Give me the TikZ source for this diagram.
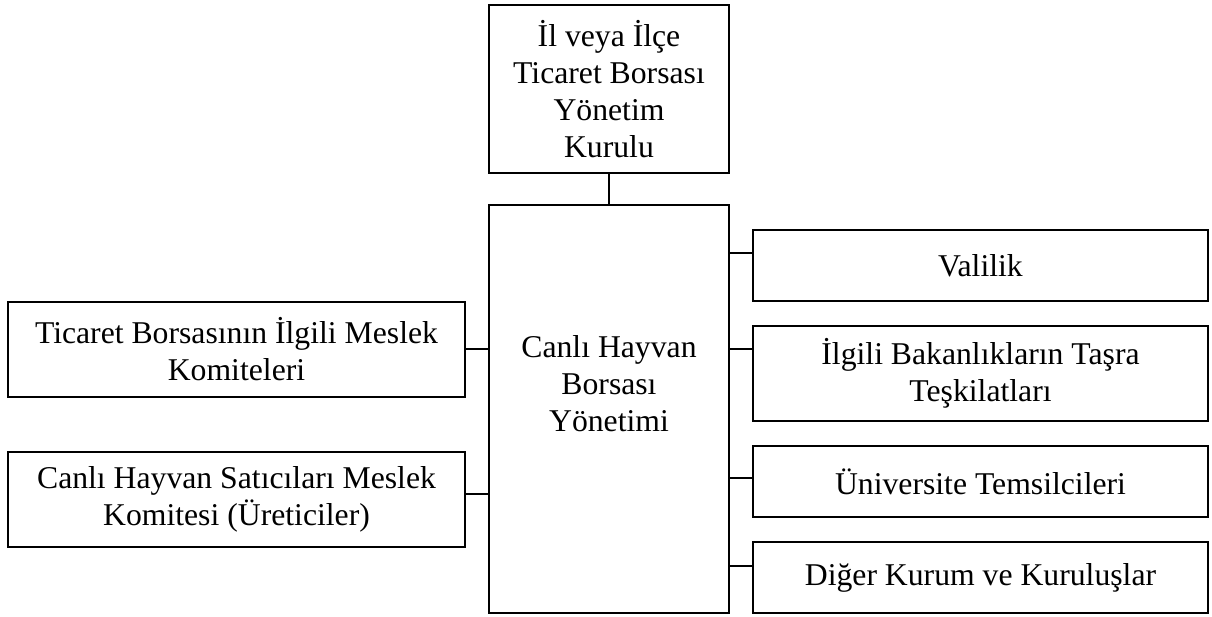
\documentclass[tikz,border=0pt]{standalone}
\usepackage{fontspec}
\setmainfont{Liberation Serif}
\begin{document}
\begin{tikzpicture}[x=1pt,y=-1pt,
  box/.style={draw=black, line width=2pt, inner sep=0pt, align=center,
    font=\fontsize{31.7}{37}\selectfont},
  link/.style={draw=black, line width=2pt}]
\useasboundingbox[fill=white] (0,0) rectangle (1212,617);

% board at the top and the central management box
\node[box, minimum width=240, minimum height=168] (top) at (609,89)
  {İl veya İlçe\\Ticaret Borsası\\Yönetim\\Kurulu};
\node[box, minimum width=240, minimum height=408] (ctr) at (609,409) {};
\node[font=\fontsize{31.7}{37}\selectfont, align=center, inner sep=0pt] (ctrtxt) at (609,384)
  {Canlı Hayvan\\Borsası\\Yönetimi};

% committees on the left
\node[box, minimum width=457, minimum height=95] (l1) at (236.5,349.5)
  {Ticaret Borsasının İlgili Meslek\\Komiteleri};
\node[box, minimum width=457, minimum height=95] (l2) at (236.5,499.5)
  {Canlı Hayvan Satıcıları Meslek\\Komitesi (Üreticiler)};

% institutions on the right
\node[box, minimum width=455, minimum height=71] (r1) at (980.5,265.5) {Valilik};
\node[box, minimum width=455, minimum height=95] (r2) at (980.5,373.5)
  {İlgili Bakanlıkların Taşra\\Teşkilatları};
\node[box, minimum width=455, minimum height=71] (r3) at (980.5,481.5) {Üniversite Temsilcileri};
\node[box, minimum width=455, minimum height=71] (r4) at (980.5,577.5) {Diğer Kurum ve Kuruluşlar};

% connectors
\draw[link] (top.south) -- (ctr.north);
\draw[link] (l1.east |- 0,349) -- (ctr.west |- 0,349);
\draw[link] (l2.east |- 0,494) -- (ctr.west |- 0,494);
\draw[link] (ctr.east |- 0,253) -- (r1.west |- 0,253);
\draw[link] (ctr.east |- 0,349) -- (r2.west |- 0,349);
\draw[link] (ctr.east |- 0,478) -- (r3.west |- 0,478);
\draw[link] (ctr.east |- 0,566) -- (r4.west |- 0,566);
\end{tikzpicture}
\end{document}
